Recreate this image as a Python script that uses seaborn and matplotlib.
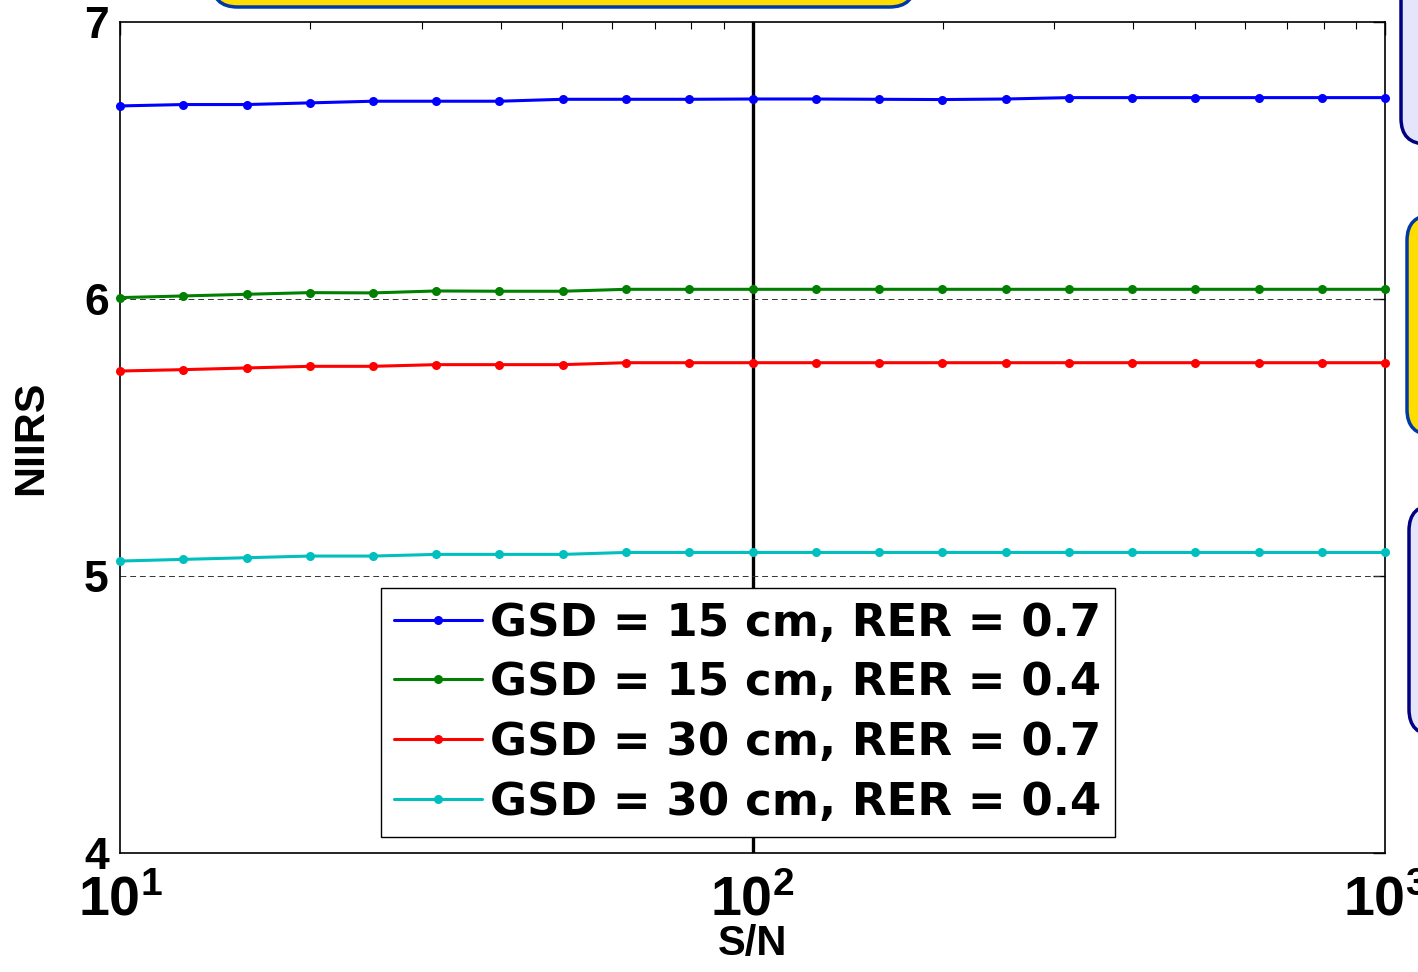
import numpy as np
import pandas as pd
import matplotlib
matplotlib.use("Agg")
import matplotlib.pyplot as plt
import seaborn as sns
from matplotlib.patches import FancyBboxPatch
from matplotlib.ticker import FixedLocator, FuncFormatter, LogLocator, NullFormatter

# ─── Data ─────────────────────────────────────────────────────────────────────
snr = [10, 12.59, 15.85, 19.95, 25.12, 31.62, 39.81, 50.12, 63.10, 79.43, 100,
       125.9, 158.5, 199.5, 251.2, 316.2, 398.1, 501.2, 631.0, 794.3, 1000]

niirs_15_07 = [6.697, 6.702, 6.702, 6.708, 6.714, 6.714, 6.714, 6.721, 6.721, 6.721, 6.722,
               6.722, 6.721, 6.720, 6.722, 6.727, 6.727, 6.727, 6.727, 6.727, 6.727]
niirs_15_04 = [6.005, 6.011, 6.017, 6.023, 6.022, 6.029, 6.028, 6.028, 6.035, 6.035, 6.035,
               6.035, 6.035, 6.035, 6.035, 6.035, 6.035, 6.035, 6.035, 6.035, 6.035]
niirs_30_07 = [5.740, 5.745, 5.751, 5.757, 5.757, 5.763, 5.763, 5.763, 5.770, 5.770, 5.770,
               5.770, 5.770, 5.770, 5.770, 5.770, 5.770, 5.770, 5.770, 5.770, 5.770]
niirs_30_04 = [5.054, 5.060, 5.066, 5.072, 5.072, 5.078, 5.078, 5.078, 5.085, 5.085, 5.085,
               5.085, 5.085, 5.085, 5.085, 5.085, 5.085, 5.085, 5.085, 5.085, 5.085]

labels = ["GSD = 15 cm, RER = 0.7", "GSD = 15 cm, RER = 0.4",
          "GSD = 30 cm, RER = 0.7", "GSD = 30 cm, RER = 0.4"]
colors = ["#0000FF", "#008000", "#FF0000", "#00BFBF"]
y_ticks = [4, 5, 6, 7]
x_ticks = [10, 100, 1000]
ref_levels = [5, 6]
ref_snr = 100
# ──────────────────────────────────────────────────────────────────────────────

sns.set_style("white")
plt.rcParams["font.family"] = ["Liberation Sans", "DejaVu Sans"]
plt.rcParams["font.weight"] = "bold"
plt.rcParams["mathtext.fontset"] = "custom"
plt.rcParams["mathtext.bf"] = "Liberation Sans:bold"
plt.rcParams["mathtext.rm"] = "Liberation Sans:bold"
for key in ["text.color", "axes.labelcolor", "xtick.color", "ytick.color"]:
    plt.rcParams[key] = "black"

W, H = 1418, 972
fig = plt.figure(figsize=(W / 100, H / 100), dpi=100)
ax = fig.add_axes([120 / W, 1 - 853 / H, 1265 / W, 831 / H])

series = [niirs_15_07, niirs_15_04, niirs_30_07, niirs_30_04]
df = pd.DataFrame({"snr": snr * 4,
                   "niirs": sum(series, []),
                   "case": [lab for lab in labels for _ in snr]})

ax.axvline(ref_snr, color="black", lw=2.4, zorder=1)
for lvl in ref_levels:
    ax.axhline(lvl, color="#333333", lw=0.7, ls=(0, (6, 4)), zorder=1)

for lab, col in zip(labels, colors):
    sub = df[df["case"] == lab]
    sns.lineplot(data=sub, x="snr", y="niirs", ax=ax, color=col, lw=2.2,
                 marker="o", markersize=6.5, markeredgewidth=0, label=lab,
                 zorder=3, clip_on=False)

ax.set_xscale("log")
ax.set_xlim(10, 1000)
ax.set_ylim(4, 7)

ax.xaxis.set_major_locator(FixedLocator(x_ticks))
ax.xaxis.set_major_formatter(FuncFormatter(lambda v, p: r"$\mathbf{10^{%d}}$" % round(np.log10(v))))
ax.xaxis.set_minor_locator(LogLocator(base=10, subs=np.arange(2, 10)))
ax.xaxis.set_minor_formatter(NullFormatter())
ax.yaxis.set_major_locator(FixedLocator(y_ticks))

ax.tick_params(axis="both", which="both", direction="in", top=True, right=True)
ax.tick_params(axis="both", which="major", length=9, width=1)
ax.tick_params(axis="x", which="minor", length=5, width=0.8)
ax.tick_params(axis="x", which="major", labelsize=40, pad=16)
ax.tick_params(axis="y", which="major", labelsize=32, pad=8)

for sp in ax.spines.values():
    sp.set_color("black")
    sp.set_linewidth(1.2)

ax.set_xlabel("S/N", fontsize=30, fontweight="bold", labelpad=-2)
ax.set_ylabel("NIIRS", fontsize=31, fontweight="bold", labelpad=24)

leg = ax.legend(loc="lower left", bbox_to_anchor=(0.206, 0.019),
                prop={"family": "DejaVu Sans", "weight": "bold", "size": 32.5},
                frameon=True, fancybox=False, shadow=False, edgecolor="black",
                framealpha=1, handlelength=1.95, handletextpad=0.18,
                labelspacing=0.37, borderpad=0.3, borderaxespad=0)
leg.get_frame().set_linewidth(1.0)
leg.set_zorder(5)

# decorative slide boxes peeking in at the edges
def slide_box(x0, y0, x1, y1, face, edge):
    box = FancyBboxPatch((x0 / W, 1 - y1 / H), (x1 - x0) / W, (y1 - y0) / H,
                         boxstyle="round,pad=0,rounding_size=0.018",
                         transform=fig.transFigure, facecolor=face, edgecolor=edge,
                         linewidth=2.5, clip_on=False, mutation_aspect=W / H)
    fig.patches.append(box)

slide_box(212, -60, 915, 7, "#FFDD00", "#0038A8")
slide_box(1401, -60, 1480, 144, "#E4E4FA", "#000080")
slide_box(1407, 215, 1480, 435, "#FFDD00", "#0038A8")
slide_box(1409, 505, 1480, 735, "#E4E4FA", "#000080")

fig.savefig("out.png", dpi=100)
